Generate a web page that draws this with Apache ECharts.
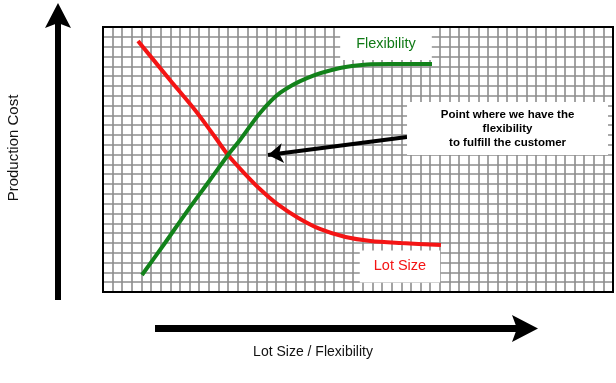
<!DOCTYPE html>
<html>
<head>
<meta charset="utf-8">
<script src="https://cdn.jsdelivr.net/npm/echarts@6/dist/echarts.min.js"></script>
<style>
html,body{margin:0;padding:0;background:#fff;}
#c{width:616px;height:383px;}
</style>
</head>
<body>
<div id="c"></div>
<script>
// Data in grid-cell units (x: 0..53 columns, y: 0..27 rows)
var lotSizeX = [3.64, 6.96, 9.56, 11.64, 12.99, 14.6, 16.3, 18.2, 20.3, 22.6, 25.2, 27.8, 31.0, 35.12];
var lotSizeY = [25.57, 21.6, 18.54, 15.79, 13.96, 12.2, 10.5, 8.9, 7.55, 6.4, 5.6, 5.2, 4.99, 4.79];
var flexX = [4.05, 6.44, 8.83, 11.12, 12.99, 14.24, 16.32, 18.39, 21.2, 24.63, 27.43, 29.83, 34.19];
var flexY = [1.73, 4.99, 8.35, 11.41, 13.96, 15.49, 18.24, 20.28, 21.8, 22.82, 23.18, 23.23, 23.23];
var arrowFrom = [31.59, 15.79];
var arrowTo = [17.15, 13.96];
var labelNames = ['Flexibility', 'Lot Size'];
var labelX = [29.41, 30.86];
var labelY = [25.27, 2.6];
var calloutText = 'Point where we have the\nflexibility\nto fulfill the customer';
var calloutPos = [42.04, 16.66];
var yTitle = 'Production Cost';
var xTitle = 'Lot Size / Flexibility';

function zip(xs, ys) { return xs.map(function (x, i) { return [x, ys[i]]; }); }

var GREEN = '#12821a';
var RED = '#f41414';
var FONT = '"Liberation Sans", Arial, sans-serif';

var chart = echarts.init(document.getElementById('c'), null, {renderer: 'canvas'});
chart.setOption({
  animation: false,
  backgroundColor: '#fff',
  grid: {left: 103, top: 27, width: 510, height: 265, show: true, backgroundColor: '#fff', borderWidth: 0},
  xAxis: {
    type: 'value', min: 0, max: 53, interval: 1,
    axisLine: {show: false}, axisTick: {show: false}, axisLabel: {show: false},
    splitLine: {show: true, lineStyle: {color: '#8c8c8c', width: 1.6}}
  },
  yAxis: {
    type: 'value', min: 0, max: 27, interval: 1,
    axisLine: {show: false}, axisTick: {show: false}, axisLabel: {show: false},
    splitLine: {show: true, lineStyle: {color: '#8c8c8c', width: 1.6}}
  },
  series: [
    {
      name: 'Lot Size', type: 'line', data: zip(lotSizeX, lotSizeY), smooth: 0.3,
      symbol: 'none', lineStyle: {color: RED, width: 4}, z: 3
    },
    {
      name: 'Flexibility', type: 'line', data: zip(flexX, flexY), smooth: 0.3,
      symbol: 'none', lineStyle: {color: GREEN, width: 4}, z: 4
    },
    {
      type: 'lines', coordinateSystem: 'cartesian2d', z: 5,
      symbol: ['none', 'arrow'], symbolSize: 15,
      lineStyle: {color: '#000', width: 4, opacity: 1},
      data: [{coords: [arrowFrom, arrowTo]}]
    },
    {
      type: 'scatter', symbolSize: 0, z: 6, silent: true,
      itemStyle: {opacity: 1},
      data: [
        {value: [labelX[0], labelY[0]], label: {color: '#107a16', padding: [9, 16, 8, 16]}},
        {value: [labelX[1], labelY[1]], label: {color: RED, padding: [9, 14, 8, 14]}}
      ].map(function (d, i) { d.name = labelNames[i]; return d; }),
      label: {
        show: true, position: 'inside', formatter: '{b}', opacity: 1,
        fontFamily: FONT, fontSize: 14.5, backgroundColor: '#ffffff'
      }
    },
    {
      type: 'scatter', symbolSize: 0, z: 6, silent: true,
      itemStyle: {opacity: 1},
      data: [{value: calloutPos, name: calloutText}],
      label: {
        show: true, position: 'inside', formatter: '{b}', opacity: 1,
        fontFamily: FONT, fontSize: 11.5, fontWeight: 'bold', color: '#000',
        lineHeight: 14, align: 'center', width: 201, padding: [6, 0, 5, 0],
        backgroundColor: '#ffffff'
      }
    }
  ],
  graphic: [
    {type: 'rect', z: 100, shape: {x: 103, y: 27, width: 510, height: 265},
     style: {fill: null, stroke: '#000', lineWidth: 2}},
    // vertical arrow
    {type: 'rect', z: 100, shape: {x: 55, y: 22, width: 6, height: 278}, style: {fill: '#000'}},
    {type: 'polygon', z: 100, shape: {points: [[58, 3], [71, 28], [58, 23], [45, 28]]}, style: {fill: '#000'}},
    // horizontal arrow
    {type: 'rect', z: 100, shape: {x: 155, y: 325, width: 363, height: 7}, style: {fill: '#000'}},
    {type: 'polygon', z: 100, shape: {points: [[538, 328.5], [512, 315], [517, 328.5], [512, 342]]}, style: {fill: '#000'}},
    {type: 'text', z: 100, x: 14, y: 148, rotation: Math.PI / 2,
     style: {text: yTitle, fontFamily: FONT, fontSize: 15, fill: '#111', align: 'center', verticalAlign: 'middle'}},
    {type: 'text', z: 100, x: 313, y: 352,
     style: {text: xTitle, fontFamily: FONT, fontSize: 14, fill: '#111', align: 'center', verticalAlign: 'middle'}}
  ]
});
</script>
</body>
</html>
